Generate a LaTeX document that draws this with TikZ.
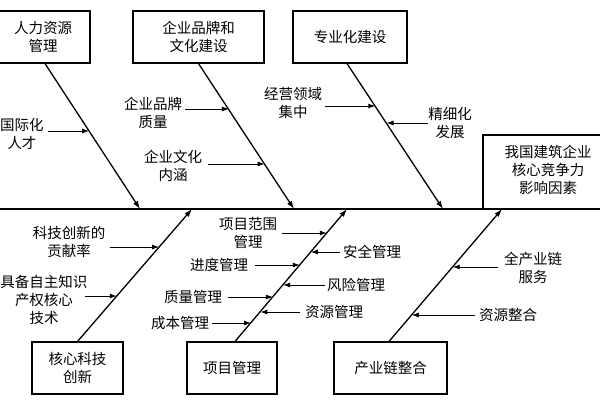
\documentclass[tikz,border=0pt]{standalone}
\usepackage{fontspec}
\newfontfamily\cjk{Noto Sans CJK SC}
\usetikzlibrary{arrows.meta}
\begin{document}
\begin{tikzpicture}[x=1pt,y=-1pt,
  lbl/.style={font=\cjk\fontsize{14.5}{18}\selectfont, align=center, inner sep=0pt},
  box/.style={draw, line width=1.1pt, minimum height=52pt, lbl},
  bone/.style={line width=1.3pt, -{Latex[length=8pt,width=5.5pt]}},
  sub/.style={line width=0.9pt, -{Latex[length=7pt,width=5pt]}},
  spine/.style={line width=2.4pt}]
\useasboundingbox (0,0) rectangle (600,400);
\fill[white] (0,0) rectangle (600,400);
% spine and head
\coordinate (sl) at (0,209);
\coordinate (sr) at (600,209);
\draw[line width=1.1pt] (483,209) -- (483,135) -- (604,135) -- (604,209);
\node[lbl] (head) at (548,170) {我国建筑企业\\核心竞争力\\影响因素};
\draw[spine] (sl) -- (sr);
% top boxes
\node[box, minimum width=94pt] (t1) at (43,37) {人力资源\\管理};
\node[box, minimum width=131pt] (t2) at (198.5,37) {企业品牌和\\文化建设};
\node[box, minimum width=114pt] (t3) at (350,37) {专业化建设};
% bottom boxes
\node[box, minimum width=91pt] (d1) at (77.5,368) {核心科技\\创新};
\node[box, minimum width=90pt] (d2) at (232,368) {项目管理};
\node[box, minimum width=113pt] (d3) at (390.5,368) {产业链整合};
% bone ends on spine
\coordinate (e1) at (140,209);
\coordinate (e2) at (294,209);
\coordinate (e3) at (443,209);
\coordinate (e4) at (192,209);
\coordinate (e5) at (347,209);
\coordinate (e6) at (502,209);
\draw[bone] ([xshift=2pt]t1.south) -- (e1);
\draw[bone] (t2.south) -- (e2);
\draw[bone] ([xshift=-3pt]t3.south) -- (e3);
\draw[bone] (d1.north) -- (e4);
\draw[bone] ([xshift=3pt]d2.north) -- (e5);
\draw[bone] ([xshift=-1.5pt]d3.north) -- (e6);
% top labels
\node[lbl] (l1) at (22,134) {国际化\\人才};
\node[lbl] (l2) at (153,113) {企业品牌\\质量};
\node[lbl] (l3) at (173,166) {企业文化\\内涵};
\node[lbl] (l4) at (293,103) {经营领域\\集中};
\node[lbl] (l5) at (450,123) {精细化\\发展};
\coordinate (s1) at (48,131);  \coordinate (p1) at (89.2,131);
\coordinate (s2) at (185,109); \coordinate (p2) at (228.9,109);
\coordinate (s3) at (208,164); \coordinate (p3) at (264.7,164);
\coordinate (s4) at (325,106); \coordinate (p4) at (375.3,106);
\coordinate (s5) at (428,123); \coordinate (p5) at (386.5,123);
\foreach \i in {1,...,5} {\draw[sub] (s\i) -- (p\i);}
% bottom labels
\node[lbl] (m1) at (69,242) {科技创新的\\贡献率};
\node[lbl] (m2) at (44,300) {具备自主知识\\产权核心\\技术};
\node[lbl] (m3) at (248,233) {项目范围\\管理};
\node[lbl] (m4) at (372,252) {安全管理};
\node[lbl] (m5) at (219,265) {进度管理};
\node[lbl] (m6) at (356,285) {风险管理};
\node[lbl] (m7) at (193,297) {质量管理};
\node[lbl] (m8) at (334,312) {资源管理};
\node[lbl] (m9) at (180,323) {成本管理};
\node[lbl] (m10) at (533,268) {全产业链\\服务};
\node[lbl] (m11) at (508,315) {资源整合};
\coordinate (u1) at (110,247);  \coordinate (q1) at (159.1,247);
\coordinate (u2) at (85,296);   \coordinate (q2) at (116.8,296);
\coordinate (u3) at (282,233);  \coordinate (q3) at (326.8,233);
\coordinate (u4) at (340,252);  \coordinate (q4) at (310.8,252);
\coordinate (u5) at (255,265);  \coordinate (q5) at (299.8,265);
\coordinate (u6) at (325,285);  \coordinate (q6) at (283,285);
\coordinate (u7) at (228,297);  \coordinate (q7) at (272.9,297);
\coordinate (u8) at (300,312);  \coordinate (q8) at (260.3,312);
\coordinate (u9) at (212,323);  \coordinate (q9) at (251,323);
\coordinate (u10) at (498,267); \coordinate (q10) at (452.7,267);
\coordinate (u11) at (475,315); \coordinate (q11) at (411.9,315);
\foreach \i in {1,...,11} {\draw[sub] (u\i) -- (q\i);}
\end{tikzpicture}
\end{document}
